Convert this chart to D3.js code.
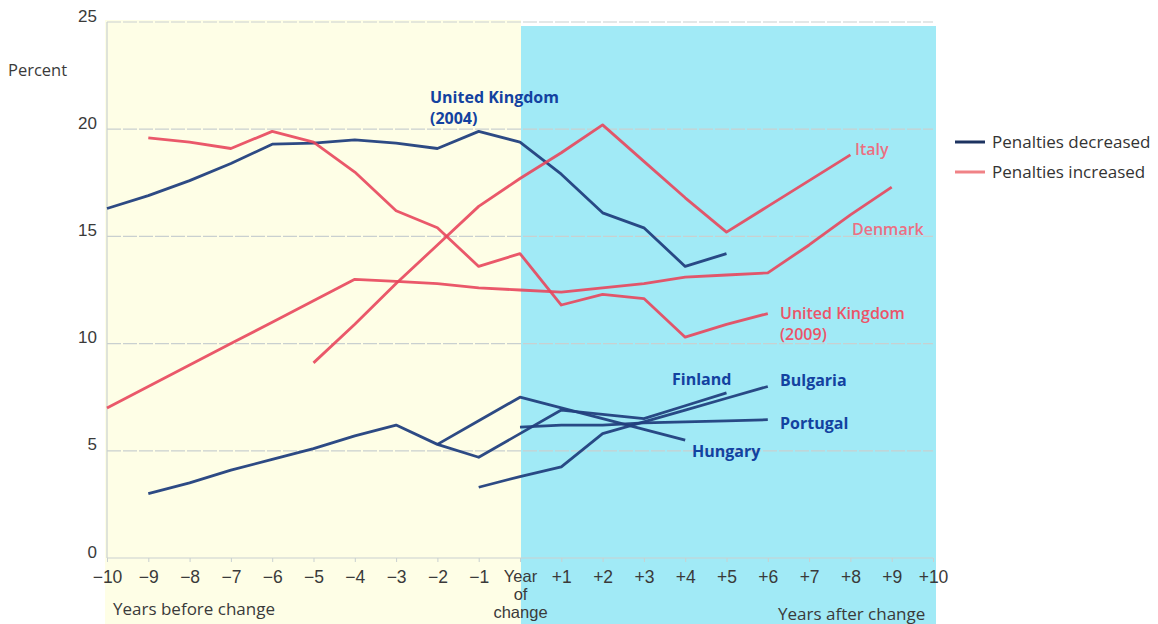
<!DOCTYPE html>
<html>
<head>
<meta charset="utf-8">
<script src="https://cdn.jsdelivr.net/npm/d3@7"></script>
<style>
  body { margin: 0; background: #fff; }
  svg { font-family: "Open Sans", "Noto Sans", sans-serif; }
</style>
</head>
<body>
<div id="chart"></div>
<script>
// years relative to the change
const ukDecYears = [-10, -9, -8, -7, -6, -5, -4, -3, -2, -1, 0, 1, 2, 3, 4, 5];
const ukDecValues = [16.3, 16.9, 17.6, 18.4, 19.3, 19.35, 19.5, 19.35, 19.1, 19.9, 19.4, 17.9, 16.1, 15.4, 13.6, 14.2];

const finlandYears = [-9, -8, -7, -6, -5, -4, -3, -2, -1, 0, 1, 2, 3, 4, 5];
const finlandValues = [3.0, 3.5, 4.1, 4.6, 5.1, 5.7, 6.2, 5.3, 4.7, 5.8, 6.9, 6.7, 6.5, 7.1, 7.7];

const hungaryYears = [-2, -1, 0, 1, 2, 3, 4];
const hungaryValues = [5.3, 6.4, 7.5, 7.0, 6.5, 6.0, 5.5];

const portugalYears = [0, 1, 2, 3, 4, 5, 6];
const portugalValues = [6.1, 6.2, 6.2, 6.3, 6.35, 6.4, 6.45];

const bulgariaYears = [-1, 0, 1, 2, 3, 4, 5, 6];
const bulgariaValues = [3.3, 3.8, 4.25, 5.8, 6.35, 6.9, 7.45, 8.0];

const italyYears = [-5, -4, -3, -2, -1, 0, 1, 2, 3, 4, 5, 6, 7, 8];
const italyValues = [9.1, 10.9, 12.8, 14.6, 16.4, 17.7, 18.9, 20.2, 18.5, 16.8, 15.2, 16.4, 17.6, 18.8];

const denmarkYears = [-10, -9, -8, -7, -6, -5, -4, -3, -2, -1, 0, 1, 2, 3, 4, 5, 6, 7, 8, 9];
const denmarkValues = [7.0, 8.0, 9.0, 10.0, 11.0, 12.0, 13.0, 12.9, 12.8, 12.6, 12.5, 12.4, 12.6, 12.8, 13.1, 13.2, 13.3, 14.6, 16.0, 17.3];

const ukIncYears = [-9, -8, -7, -6, -5, -4, -3, -2, -1, 0, 1, 2, 3, 4, 5, 6];
const ukIncValues = [19.6, 19.4, 19.1, 19.9, 19.4, 18.0, 16.2, 15.4, 13.6, 14.2, 11.8, 12.3, 12.1, 10.3, 10.9, 11.4];

const yTicks = [0, 5, 10, 15, 20, 25];
const xTicks = d3.range(-10, 11);

const series = [
  {type: "dec", years: ukDecYears, values: ukDecValues},
  {type: "dec", years: finlandYears, values: finlandValues},
  {type: "dec", years: hungaryYears, values: hungaryValues},
  {type: "dec", years: portugalYears, values: portugalValues},
  {type: "dec", years: bulgariaYears, values: bulgariaValues},
  {type: "inc", years: italyYears, values: italyValues},
  {type: "inc", years: denmarkYears, values: denmarkValues},
  {type: "inc", years: ukIncYears, values: ukIncValues}
];

const width = 1158, height = 624;
const blue = "#22407e", red = "#e8465c";

const x = d3.scaleLinear().domain([-10, 10]).range([107, 933]);
const y = d3.scaleLinear().domain([0, 25]).range([558, 22]);

const svg = d3.select("#chart").append("svg")
  .attr("width", width)
  .attr("height", height);

// fondos: antes (amarillo) y despues (celeste)
svg.append("rect")
  .attr("x", x(-10) - 2).attr("y", y(25) - 2)
  .attr("width", x(0) - x(-10) + 3).attr("height", height - y(25) + 2)
  .attr("fill", "#fefee6");
svg.append("rect")
  .attr("x", x(0) + 1).attr("y", y(25) + 4)
  .attr("width", x(10) - x(0) + 2).attr("height", height - y(25))
  .attr("fill", "#a1eaf6");

// grid
svg.append("g").selectAll("line")
  .data(yTicks)
  .join("line")
  .attr("x1", x(-10)).attr("x2", x(10))
  .attr("y1", d => y(d)).attr("y2", d => y(d))
  .attr("stroke", "#c9d0d0")
  .attr("stroke-width", 1.2)
  .attr("stroke-dasharray", d => d === 0 ? null : "14,2");

svg.append("line")
  .attr("x1", x(-10)).attr("x2", x(-10))
  .attr("y1", y(25)).attr("y2", y(0))
  .attr("stroke", "#c9d0d0").attr("stroke-width", 1.2);

// eje x con d3.axisBottom
const xAxis = d3.axisBottom(x)
  .tickValues(xTicks)
  .tickSize(4)
  .tickFormat(d => d < 0 ? "\u2212" + (-d) : d > 0 ? "+" + d : "");
const gx = svg.append("g")
  .attr("transform", `translate(0,${y(0)})`)
  .call(xAxis);
gx.select(".domain").remove();
gx.selectAll(".tick line").attr("stroke", "#c9d0d0");
gx.selectAll(".tick text")
  .attr("fill", "#3a3a3a")
  .attr("font-size", 17.5)
  .attr("y", 8)
  .attr("dy", "0.95em");

const yearText = gx.selectAll(".tick").filter(d => d === 0).select("text")
  .attr("font-size", 16.5);
["Year", "of", "change"].forEach((t, i) => {
  yearText.append("tspan").attr("x", 0).attr("dy", i === 0 ? "0.95em" : 18).text(t);
});

// eje y
const yAxis = d3.axisLeft(y).tickValues(yTicks).tickSize(0).tickPadding(10);
const gy = svg.append("g")
  .attr("transform", `translate(${x(-10)},0)`)
  .call(yAxis);
gy.select(".domain").remove();
gy.selectAll(".tick text")
  .attr("fill", "#3a3a3a")
  .attr("font-size", 17)
  .attr("dy", "-0.05em");

svg.append("text")
  .attr("x", 8).attr("y", 76)
  .attr("fill", "#3a3a3a").attr("font-size", 16.5)
  .text("Percent");

svg.append("text").attr("x", 113).attr("y", 615)
  .attr("fill", "#3a3a3a").attr("font-size", 17)
  .text("Years before change");
svg.append("text").attr("x", 778).attr("y", 620)
  .attr("fill", "#3a3a3a").attr("font-size", 17)
  .text("Years after change");

// lineas
const line = d3.line()
  .x(d => x(d[0]))
  .y(d => y(d[1]));

svg.append("g").selectAll("path")
  .data(series)
  .join("path")
  .attr("d", s => line(d3.zip(s.years, s.values)))
  .attr("fill", "none")
  .attr("stroke", s => s.type === "dec" ? blue : red)
  .attr("stroke-width", 2.8)
  .attr("stroke-linejoin", "round")
  .attr("opacity", s => s.type === "dec" ? 0.95 : 0.9);

// etiquetas
const labels = [
  {lines: ["United Kingdom", "(2004)"], x: 430, y: 103, color: "#1342a0", bold: true},
  {lines: ["Finland"], x: 672, y: 385, color: "#1342a0", bold: true},
  {lines: ["Bulgaria"], x: 780, y: 386, color: "#1342a0", bold: true},
  {lines: ["Portugal"], x: 780, y: 429, color: "#1342a0", bold: true},
  {lines: ["Hungary"], x: 692, y: 457, color: "#1342a0", bold: true},
  {lines: ["Italy"], x: 855, y: 155, color: "#ec6f82", bold: false},
  {lines: ["Denmark"], x: 852, y: 235, color: "#ec6f82", bold: false},
  {lines: ["United Kingdom", "(2009)"], x: 780, y: 319, color: "#ec5468", bold: false}
];

labels.forEach(l => {
  const t = svg.append("text")
    .attr("x", l.x).attr("y", l.y)
    .attr("fill", l.color)
    .attr("font-size", 16)
    .attr("font-weight", l.bold ? "bold" : 600);
  l.lines.forEach((s, i) => {
    t.append("tspan").attr("x", l.x).attr("dy", i === 0 ? 0 : 21).text(s);
  });
});

// leyenda
const legend = [
  {name: "Penalties decreased", color: "#1d3360"},
  {name: "Penalties increased", color: "#f08286"}
];
const lg = svg.append("g").selectAll("g")
  .data(legend)
  .join("g")
  .attr("transform", (d, i) => `translate(955,${142 + i * 30})`);
lg.append("line")
  .attr("x1", 0).attr("x2", 30)
  .attr("stroke", d => d.color).attr("stroke-width", 3);
lg.append("text")
  .attr("x", 37).attr("y", 6)
  .attr("fill", "#333").attr("font-size", 17)
  .text(d => d.name);
</script>
</body>
</html>
